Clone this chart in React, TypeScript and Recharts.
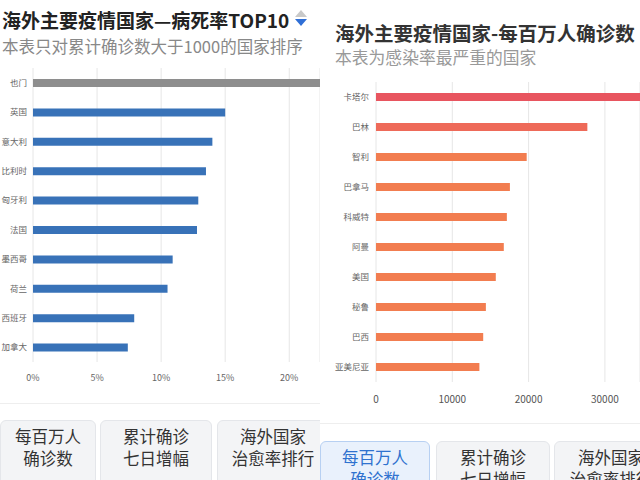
import { BarChart, Bar, XAxis, YAxis, CartesianGrid, Cell } from 'recharts';

// 病死率 TOP10 (%)
const deathCountries = ['也门', '英国', '意大利', '比利时', '匈牙利', '法国', '墨西哥', '荷兰', '西班牙', '加拿大'];
const deathRates = [28.6, 15.0, 14.0, 13.5, 12.9, 12.8, 10.9, 10.5, 7.9, 7.4];
const deathTicks = [0, 5, 10, 15, 20];

// 每百万人确诊数
const caseCountries = ['卡塔尔', '巴林', '智利', '巴拿马', '科威特', '阿曼', '美国', '秘鲁', '巴西', '亚美尼亚'];
const casesPerMillion = [38000, 27700, 19750, 17550, 17150, 16750, 15700, 14400, 14050, 13550];
const caseTicks = [0, 10000, 20000, 30000];

const deathData = deathCountries.map((name, i) => ({ name, value: deathRates[i] }));
const caseData = caseCountries.map((name, i) => ({ name, value: casesPerMillion[i] }));

const FONT = '"Noto Sans CJK SC", "Noto Sans", sans-serif';

const caseColor = (i: number) => (i === 0 ? '#e8555f' : i === 1 ? '#ee6a59' : '#f27d50');

const Button = ({ left, top, width, lines, active }: { left: number; top: number; width: number; lines: string[]; active?: boolean }) => (
  <div
    style={{
      position: 'absolute',
      left,
      top,
      width,
      height: 80,
      boxSizing: 'border-box',
      borderRadius: 6,
      border: `1px solid ${active ? '#b7d0f2' : '#e4e6ea'}`,
      background: active ? '#e9f1fc' : '#f3f4f6',
      color: active ? '#2f72cf' : '#333',
      fontSize: 16.5,
      lineHeight: '22px',
      textAlign: 'center',
      paddingTop: 4,
    }}
  >
    {lines.map((l) => (
      <div key={l}>{l}</div>
    ))}
  </div>
);

const SortIcon = () => (
  <svg width={14} height={20} style={{ position: 'absolute', left: 294, top: 8 }}>
    <polygon points="1,9 7,2 13,9" fill="#c9c9c9" />
    <polygon points="1,11 13,11 7,18" fill="#2f6fd6" />
  </svg>
);

export default function App() {
  return (
    <div style={{ position: 'absolute', left: 0, top: 0, width: 640, height: 480, overflow: 'hidden', background: '#fff', fontFamily: FONT }}>
      {/* left panel */}
      <div style={{ position: 'absolute', left: 0, top: 0, width: 320, height: 480, overflow: 'hidden' }}>
        <div style={{ position: 'absolute', left: 2, top: 6, fontSize: 19, fontWeight: 700, color: '#222', whiteSpace: 'nowrap' }}>
          海外主要疫情国家—病死率TOP10
        </div>
        <SortIcon />
        <div style={{ position: 'absolute', left: 2, top: 34, fontSize: 16.5, color: '#888', whiteSpace: 'nowrap' }}>
          本表只对累计确诊数大于1000的国家排序
        </div>
        <BarChart width={320} height={400} data={deathData} layout="vertical" margin={{ top: 68, right: 0, bottom: 8, left: 0 }}>
          <CartesianGrid horizontal={false} stroke="#e6e6e6" />
          <XAxis
            type="number"
            domain={[0, 22.4]}
            ticks={deathTicks}
            allowDataOverflow
            tickFormatter={(v) => `${v}%`}
            axisLine={false}
            tickLine={false}
            tickSize={10}
            tickMargin={3}
            height={30}
            tick={{ fontSize: 9, fill: '#666' }}
          />
          <YAxis
            type="category"
            dataKey="name"
            width={33}
            axisLine={false}
            tickLine={false}
            tickSize={4}
            tickMargin={2}
            interval={0}
            tick={{ fontSize: 8.5, fill: '#666' }}
          />
          <Bar dataKey="value" barSize={8} isAnimationActive={false}>
            {deathData.map((d, i) => (
              <Cell key={d.name} fill={i === 0 ? '#8e8e8e' : '#3872b8'} />
            ))}
          </Bar>
        </BarChart>
        <div style={{ position: 'absolute', left: 0, top: 403, width: 320, height: 1, background: '#eeeeee' }} />
        <Button left={0} top={420} width={96} lines={['每百万人', '确诊数']} />
        <Button left={100} top={420} width={112} lines={['累计确诊', '七日增幅']} />
        <Button left={217} top={420} width={112} lines={['海外国家', '治愈率排行']} />
      </div>

      {/* right panel */}
      <div style={{ position: 'absolute', left: 320, top: 0, width: 320, height: 480, overflow: 'hidden' }}>
        <div style={{ position: 'absolute', left: 15, top: 18, fontSize: 19.5, fontWeight: 700, color: '#333', whiteSpace: 'nowrap' }}>
          海外主要疫情国家-每百万人确诊数
        </div>
        <div style={{ position: 'absolute', left: 15, top: 45, fontSize: 16.8, color: '#999', whiteSpace: 'nowrap' }}>
          本表为感染率最严重的国家
        </div>
        <BarChart width={320} height={420} data={caseData} layout="vertical" margin={{ top: 82, right: 0, bottom: 8, left: 0 }}>
          <CartesianGrid horizontal={false} stroke="#e6e6e6" />
          <XAxis
            type="number"
            domain={[0, 34600]}
            ticks={caseTicks}
            allowDataOverflow
            axisLine={false}
            tickLine={false}
            tickSize={11}
            tickMargin={3}
            height={30}
            tick={{ fontSize: 10, fill: '#555' }}
          />
          <YAxis
            type="category"
            dataKey="name"
            width={56}
            axisLine={false}
            tickLine={false}
            tickSize={5}
            tickMargin={2}
            interval={0}
            tick={{ fontSize: 8.5, fill: '#666' }}
          />
          <Bar dataKey="value" barSize={8} isAnimationActive={false}>
            {caseData.map((d, i) => (
              <Cell key={d.name} fill={caseColor(i)} />
            ))}
          </Bar>
        </BarChart>
        <div style={{ position: 'absolute', left: 0, top: 423, width: 320, height: 1, background: '#eeeeee' }} />
        <Button left={0} top={441} width={110} lines={['每百万人', '确诊数']} active />
        <Button left={116} top={441} width={114} lines={['累计确诊', '七日增幅']} />
        <Button left={234} top={441} width={114} lines={['海外国家', '治愈率排行']} />
      </div>
    </div>
  );
}
